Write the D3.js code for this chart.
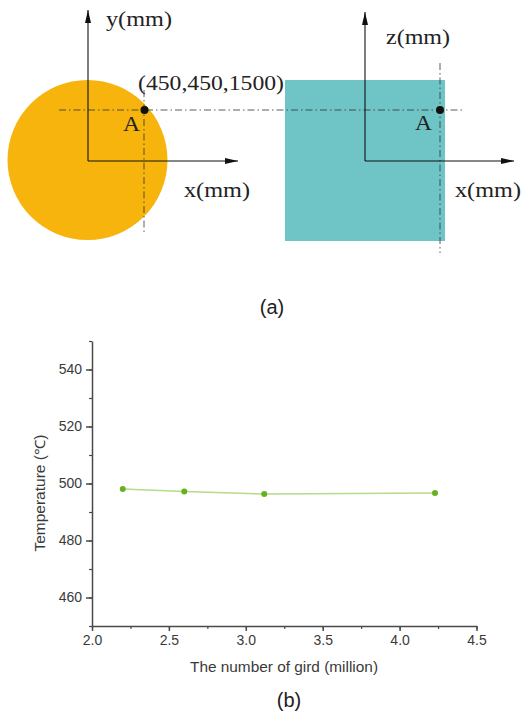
<!DOCTYPE html>
<html>
<head>
<meta charset="utf-8">
<script src="https://cdn.jsdelivr.net/npm/d3@7"></script>
<style>
  body { margin: 0; background: #fff; }
  svg { display: block; }
</style>
</head>
<body>
<div id="viz"></div>
<script>
'use strict';

// data
const gridMillions = [2.2, 2.6, 3.12, 4.23];
const temperatures = [498.1, 497.2, 496.3, 496.7];
const xTicks = [2.0, 2.5, 3.0, 3.5, 4.0, 4.5];
const yTicks = [460, 480, 500, 520, 540];

const W = 524, H = 717;
const svg = d3.select('#viz').append('svg')
  .attr('width', W)
  .attr('height', H);

const serif = '"Liberation Serif", "DejaVu Serif", serif';
const sans = '"Liberation Sans", Arial, sans-serif';

// ---- (a) sketch ----
const defs = svg.append('defs');
defs.append('marker')
  .attr('id', 'arrow')
  .attr('viewBox', '0 0 13 6')
  .attr('refX', 13).attr('refY', 3)
  .attr('markerWidth', 13).attr('markerHeight', 6)
  .attr('markerUnits', 'userSpaceOnUse')
  .attr('orient', 'auto')
  .append('path')
    .attr('d', 'M0,0 L13,3 L0,6 Z')
    .attr('fill', '#111');

const sketch = svg.append('g');

// shapes
sketch.append('circle')
  .attr('cx', 87.5).attr('cy', 160).attr('r', 80)
  .attr('fill', '#f6b40c');

sketch.append('rect')
  .attr('x', 285).attr('y', 80)
  .attr('width', 160).attr('height', 161)
  .attr('fill', '#6fc4c6');

// dash-dot lines
const dashDot = '7,3,1.5,3';
const guides = [
  [59, 110, 464, 110],
  [144, 90, 144, 232],
  [440, 63, 440, 253]
];
sketch.selectAll('line.guide')
  .data(guides)
  .join('line')
    .attr('class', 'guide')
    .attr('x1', d => d[0]).attr('y1', d => d[1])
    .attr('x2', d => d[2]).attr('y2', d => d[3])
    .attr('stroke', '#333').attr('stroke-width', 0.8)
    .attr('stroke-dasharray', dashDot);

// coordinate axes with arrows
const axesSpec = [
  {ox: 88, oy: 161, ux: 88, uy: 10, rx: 238, ry: 161},
  {ox: 365, oy: 161, ux: 365, uy: 12, rx: 514, ry: 161}
];
for (const a of axesSpec) {
  sketch.append('path')
    .attr('d', `M${a.ox},${a.oy} L${a.ux},${a.uy}`)
    .attr('stroke', '#111').attr('stroke-width', 1.1).attr('fill', 'none')
    .attr('marker-end', 'url(#arrow)');
  sketch.append('path')
    .attr('d', `M${a.ox},${a.oy} L${a.rx},${a.ry}`)
    .attr('stroke', '#111').attr('stroke-width', 1.1).attr('fill', 'none')
    .attr('marker-end', 'url(#arrow)');
}

// point A
sketch.append('circle').attr('cx', 144.5).attr('cy', 110).attr('r', 4).attr('fill', '#111');
sketch.append('circle').attr('cx', 440).attr('cy', 110).attr('r', 4).attr('fill', '#111');

const labels = [
  {t: 'y(mm)', x: 106, y: 26, len: 66},
  {t: 'x(mm)', x: 184, y: 197, len: 66},
  {t: 'z(mm)', x: 386, y: 44, len: 64},
  {t: 'x(mm)', x: 455, y: 197, len: 66},
  {t: '(450,450,1500)', x: 138, y: 90, len: 146},
  {t: 'A', x: 123, y: 131, len: 17},
  {t: 'A', x: 415, y: 130, len: 17}
];
sketch.selectAll('text.lbl')
  .data(labels)
  .join('text')
    .attr('class', 'lbl')
    .attr('x', d => d.x).attr('y', d => d.y)
    .attr('textLength', d => d.len)
    .attr('lengthAdjust', 'spacingAndGlyphs')
    .attr('font-family', serif)
    .attr('font-size', 21)
    .attr('fill', '#222')
    .text(d => d.t);

svg.append('text')
  .attr('x', 272).attr('y', 314)
  .attr('text-anchor', 'middle')
  .attr('font-family', sans).attr('font-size', 20)
  .attr('fill', '#222')
  .text('(a)');

// ---- (b) chart ----
const x = d3.scaleLinear().domain([2.0, 4.5]).range([92, 476.5]);
const y = d3.scaleLinear().domain([450, 550]).range([626, 341]);

const chart = svg.append('g');
const axisColor = '#4a4a4a';

// x axis: minor then major ticks
chart.append('g')
  .attr('transform', `translate(0,${y(450)})`)
  .call(d3.axisBottom(x).tickValues(d3.range(2.0, 4.51, 0.25)).tickSize(3).tickFormat(''))
  .call(g => g.select('.domain').remove())
  .call(g => g.selectAll('line').attr('stroke', axisColor).attr('stroke-width', 1.2));

chart.append('g')
  .attr('transform', `translate(0,${y(450)})`)
  .call(d3.axisBottom(x).tickValues(xTicks).tickSize(5).tickSizeOuter(0).tickFormat(d3.format('.1f')).tickPadding(4))
  .call(g => g.select('.domain').attr('stroke', axisColor).attr('stroke-width', 1.5))
  .call(g => g.selectAll('line').attr('stroke', axisColor).attr('stroke-width', 1.5))
  .call(g => g.selectAll('text').attr('font-family', sans).attr('font-size', 14).attr('fill', '#3a3a3a'));

// y axis: minor then major ticks
chart.append('g')
  .attr('transform', `translate(${x(2.0)},0)`)
  .call(d3.axisLeft(y).tickValues(d3.range(450, 551, 10)).tickSize(3).tickFormat(''))
  .call(g => g.select('.domain').remove())
  .call(g => g.selectAll('line').attr('stroke', axisColor).attr('stroke-width', 1.2));

chart.append('g')
  .attr('transform', `translate(${x(2.0)},0)`)
  .call(d3.axisLeft(y).tickValues(yTicks).tickSize(6).tickSizeOuter(0).tickPadding(4))
  .call(g => g.select('.domain').attr('stroke', axisColor).attr('stroke-width', 1.5))
  .call(g => g.selectAll('line').attr('stroke', axisColor).attr('stroke-width', 1.5))
  .call(g => g.selectAll('text').attr('font-family', sans).attr('font-size', 14).attr('fill', '#3a3a3a'));

// series
const points = gridMillions.map((g, i) => ({g, t: temperatures[i]}));

chart.append('path')
  .datum(points)
  .attr('fill', 'none')
  .attr('stroke', '#b4dc8a')
  .attr('stroke-width', 1.5)
  .attr('d', d3.line().x(d => x(d.g)).y(d => y(d.t)));

chart.selectAll('circle.pt')
  .data(points)
  .join('circle')
    .attr('class', 'pt')
    .attr('cx', d => x(d.g))
    .attr('cy', d => y(d.t))
    .attr('r', 3)
    .attr('fill', '#66b21e');

// axis titles
chart.append('text')
  .attr('x', 284).attr('y', 672)
  .attr('text-anchor', 'middle')
  .attr('font-family', sans).attr('font-size', 14)
  .attr('textLength', 188).attr('lengthAdjust', 'spacingAndGlyphs')
  .attr('fill', '#3a3a3a')
  .text('The number of gird (million)');

chart.append('text')
  .attr('transform', `translate(45,${493}) rotate(-90)`)
  .attr('text-anchor', 'middle')
  .attr('font-family', sans).attr('font-size', 14)
  .attr('textLength', 117).attr('lengthAdjust', 'spacingAndGlyphs')
  .attr('fill', '#3a3a3a')
  .text('Temperature (℃)');

svg.append('text')
  .attr('x', 289).attr('y', 707)
  .attr('text-anchor', 'middle')
  .attr('font-family', sans).attr('font-size', 20)
  .attr('fill', '#222')
  .text('(b)');
</script>
</body>
</html>
